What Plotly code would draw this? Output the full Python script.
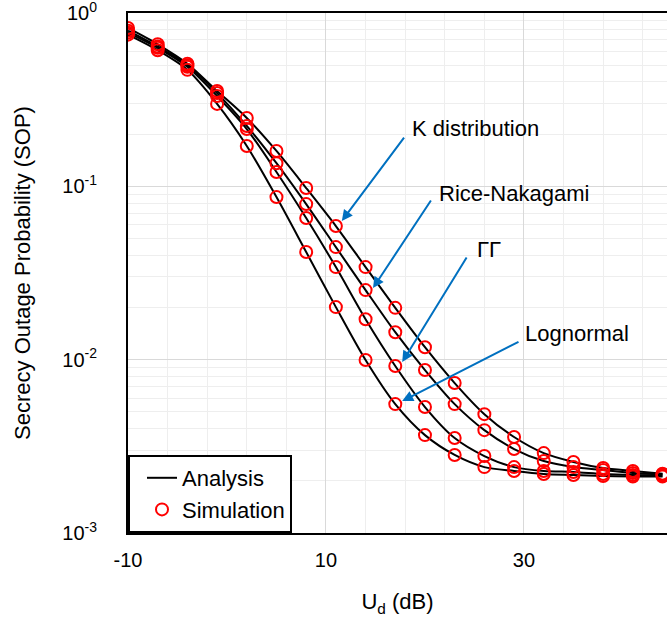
import plotly.graph_objects as go

# ---- data ----
ud = [-10, -7, -4, -1, 2, 5, 8, 11, 14, 17, 20, 23, 26, 29, 32, 35, 38, 41, 44]
k_dist = [0.82, 0.66, 0.51, 0.355, 0.248, 0.160, 0.0978, 0.059, 0.0342, 0.0199, 0.0118,
          0.00733, 0.00485, 0.00358, 0.00289, 0.00257, 0.00237, 0.00228, 0.00220]
rice_nak = [0.79, 0.64, 0.50, 0.345, 0.223, 0.136, 0.079, 0.0446, 0.0252, 0.0144, 0.00871,
            0.00554, 0.00392, 0.00305, 0.00260, 0.00240, 0.00231, 0.00222, 0.00218]
gamma_gamma = [0.77, 0.63, 0.49, 0.332, 0.214, 0.121, 0.0656, 0.0342, 0.0171, 0.00919, 0.00533,
               0.00353, 0.00278, 0.00240, 0.00228, 0.00225, 0.00219, 0.00216, 0.00215]
lognormal = [0.75, 0.61, 0.47, 0.299, 0.171, 0.0867, 0.0418, 0.0201, 0.00995, 0.00554, 0.00367,
             0.00282, 0.00240, 0.00228, 0.00219, 0.00216, 0.00213, 0.00212, 0.00212]
series = [k_dist, rice_nak, gamma_gamma, lognormal]

y_tickvals = [1, 0.1, 0.01, 0.001]
y_ticktext = ["10<sup>0</sup>", "10<sup>-1</sup>", "10<sup>-2</sup>", "10<sup>-3</sup>"]
x_tickvals = [-10, 10, 30]
x_ticktext = ["-10", "10", "30"]

FONT = "Arial, Liberation Sans, sans-serif"
FS = 22
TFS = 20

fig = go.Figure()
for i, s in enumerate(series):
    fig.add_trace(go.Scatter(
        x=ud, y=s, mode="lines", name="Analysis", legendgroup="a",
        showlegend=(i == 0),
        line=dict(color="black", width=2, shape="spline", smoothing=0.8)))
for i, s in enumerate(series):
    fig.add_trace(go.Scatter(
        x=ud, y=s, mode="markers", name="Simulation", legendgroup="s",
        showlegend=(i == 0),
        marker=dict(symbol="circle-open", size=12, color="#FF0000",
                    line=dict(color="#FF0000", width=2))))

minor_y = [m * 10 ** e for e in (-3, -2, -1) for m in range(2, 10)]

fig.update_layout(
    width=667, height=623,
    margin=dict(l=128, r=0, t=13, b=90, autoexpand=False),
    paper_bgcolor="white", plot_bgcolor="white",
    font=dict(family=FONT, size=FS, color="black"),
    showlegend=True,
    legend=dict(x=0, y=0, xanchor="left", yanchor="bottom",
                bgcolor="white", bordercolor="black", borderwidth=2,
                font=dict(size=FS), tracegroupgap=0, indentation=12),
    xaxis=dict(
        range=[-10, 44.45], tickmode="array", tickvals=x_tickvals, ticktext=x_ticktext,
        tickfont=dict(size=TFS),
        showgrid=True, gridcolor="#d9d9d9", gridwidth=1,
        minor=dict(tickmode="linear", tick0=-10, dtick=4, showgrid=True,
                   gridcolor="#eeeeee", gridwidth=1, ticks=""),
        showline=True, linecolor="black", linewidth=2, mirror=True,
        ticks="", ticklabelstandoff=8, zeroline=False,
        title=dict(text="U<sub>d</sub> (dB)", standoff=24, font=dict(size=FS)),
    ),
    yaxis=dict(
        type="log", range=[-3, 0], tickmode="array",
        tickvals=y_tickvals, ticktext=y_ticktext, tickfont=dict(size=TFS),
        ticklabeloverflow="allow",
        showgrid=True, gridcolor="#d9d9d9", gridwidth=1,
        minor=dict(tickmode="array", tickvals=minor_y, showgrid=True,
                   gridcolor="#eeeeee", gridwidth=1, ticks=""),
        showline=True, linecolor="black", linewidth=2, mirror=False,
        ticks="", ticklabelstandoff=25, zeroline=False,
        title=dict(text="Secrecy Outage Probability (SOP)", standoff=26,
                   font=dict(size=FS)),
    ),
)

ARROW = "#0070C0"
arrows = [
    # (head x, head log10 y, tail x, tail log10 y)
    (11.6, -1.200, 18.0, -0.710),
    (14.75, -1.587, 20.7, -1.073),
    (17.7, -2.014, 24.3, -1.402),
    (17.7, -2.239, 29.6, -1.893),
]
for hx, hy, tx, ty in arrows:
    fig.add_annotation(x=hx, y=hy, ax=tx, ay=ty, xref="x", yref="y",
                       axref="x", ayref="y", text="", showarrow=True,
                       arrowhead=2, arrowsize=1.1, arrowwidth=2, arrowcolor=ARROW)

labels = [
    ("K distribution", 18.5, -0.669),
    ("Rice-Nakagami", 21.2, -1.044),
    ("ΓΓ", 25.05, -1.362),
    ("Lognormal", 29.9, -1.847),
]
for txt, lx, ly in labels:
    fig.add_annotation(x=lx, y=ly, xref="x", yref="y", text=txt, showarrow=False,
                       xanchor="left", yanchor="middle",
                       font=dict(size=FS, color="black", family=FONT))

fig.write_html("out.html", config={"displayModeBar": False},
               post_script="document.body.style.margin='0px';document.body.style.overflow='hidden';")
